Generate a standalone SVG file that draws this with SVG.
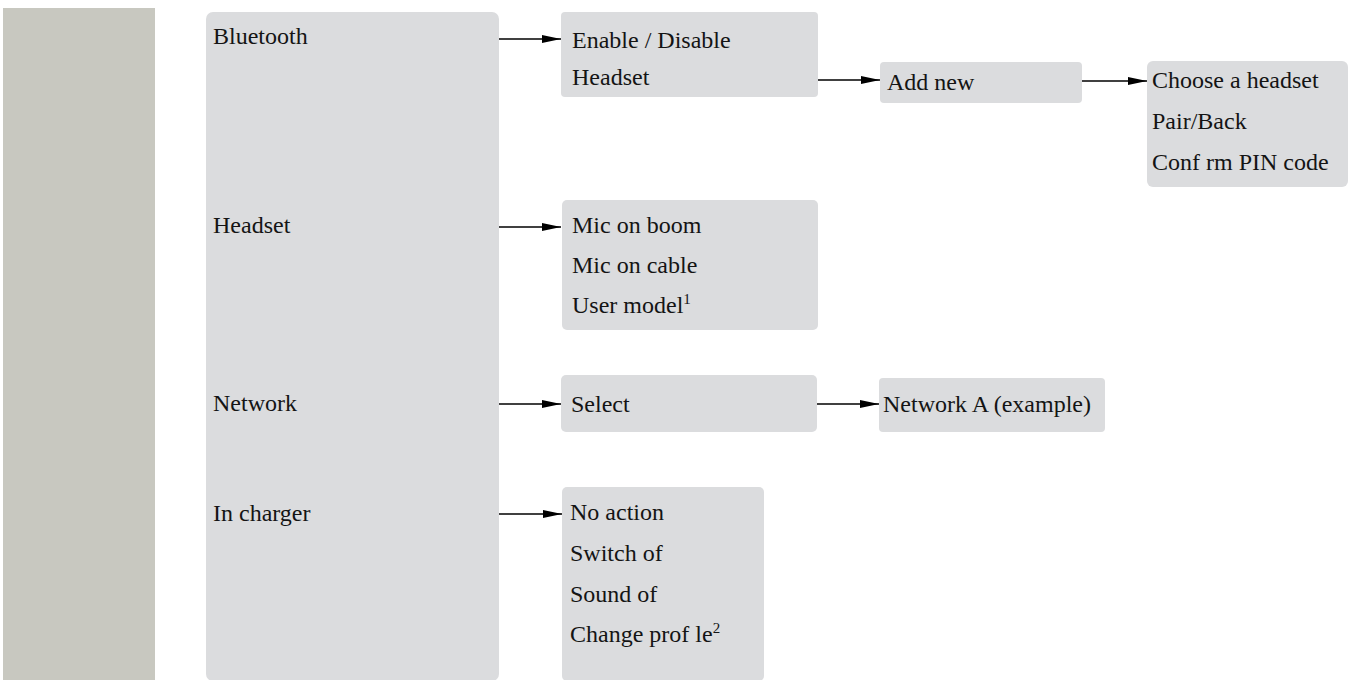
<svg xmlns="http://www.w3.org/2000/svg" width="1351" height="680" viewBox="0 0 1351 680">
<defs>
<style>
.box{fill:#dbdcde;}
.t{font-family:"Liberation Serif","Times New Roman",serif;font-size:24px;fill:#141414;}
.sup{font-size:15px;}
.c{stroke:#000;stroke-width:1.4;fill:none;marker-end:url(#ah);}
</style>
<marker id="ah" markerWidth="19" markerHeight="8" refX="19" refY="4" orient="auto" markerUnits="userSpaceOnUse">
<path d="M0,0 L19,4 L0,8 Z" fill="#000"/>
</marker>
</defs>
<rect id="sidebar" x="3" y="8" width="152" height="672" fill="#c8c8c0"/>
<g id="main">
<rect class="box" x="206" y="12" width="293" height="669" rx="7"/>
<text class="t" x="213" y="44">Bluetooth</text>
<text class="t" x="213" y="233">Headset</text>
<text class="t" x="213" y="411">Network</text>
<text class="t" x="213" y="521">In charger</text>
</g>
<g id="bluetooth-menu">
<rect class="box" x="561" y="12" width="257" height="85" rx="4"/>
<text class="t" x="572" y="48">Enable / Disable</text>
<text class="t" x="572" y="85">Headset</text>
</g>
<g id="add-new">
<rect class="box" x="880" y="62" width="202" height="41" rx="4"/>
<text class="t" x="887" y="90">Add new</text>
</g>
<g id="pair">
<rect class="box" x="1147" y="61" width="201" height="126" rx="6"/>
<text class="t" x="1152" y="88">Choose a headset</text>
<text class="t" x="1152" y="129">Pair/Back</text>
<text class="t" x="1152" y="170">Conf rm PIN code</text>
</g>
<g id="headset-menu">
<rect class="box" x="562" y="200" width="256" height="130" rx="5"/>
<text class="t" x="572" y="233">Mic on boom</text>
<text class="t" x="572" y="273">Mic on cable</text>
<text class="t" x="572" y="313">User model<tspan class="sup" dy="-9">1</tspan></text>
</g>
<g id="network-menu">
<rect class="box" x="561" y="375" width="256" height="57" rx="5"/>
<text class="t" x="571" y="412">Select</text>
</g>
<g id="network-a">
<rect class="box" x="879" y="378" width="226" height="54" rx="4"/>
<text class="t" x="883" y="412">Network A (example)</text>
</g>
<g id="charger-menu">
<rect class="box" x="562" y="487" width="202" height="194" rx="5"/>
<text class="t" x="570" y="520">No action</text>
<text class="t" x="570" y="561">Switch of</text>
<text class="t" x="570" y="602">Sound of</text>
<text class="t" x="570" y="642">Change prof le<tspan class="sup" dy="-9">2</tspan></text>
</g>
<g id="connectors">
<path class="c" d="M499,39 H561"/>
<path class="c" d="M818,80 H880"/>
<path class="c" d="M1082,81 H1147"/>
<path class="c" d="M499,227 H561"/>
<path class="c" d="M499,404 H561"/>
<path class="c" d="M817,404 H879"/>
<path class="c" d="M499,514 H562"/>
</g>
</svg>
